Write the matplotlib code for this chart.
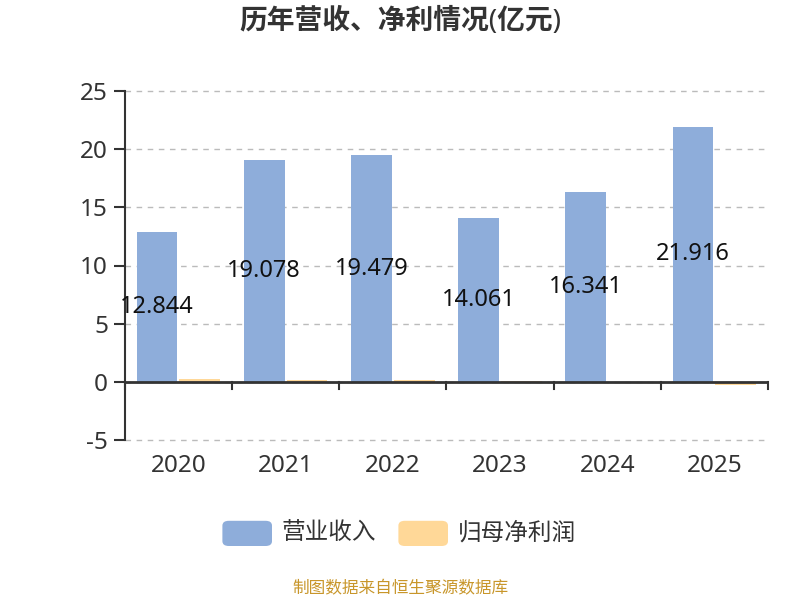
import matplotlib
matplotlib.use('Agg')
import matplotlib.pyplot as plt
import numpy as np
from matplotlib.patches import FancyBboxPatch

plt.rcParams['font.family'] = ['Noto Sans', 'Noto Sans CJK SC', 'DejaVu Sans']

# 数据
years = ['2020', '2021', '2022', '2023', '2024', '2025']
revenue = [12.844, 19.078, 19.479, 14.061, 16.341, 21.916]
net_profit = [0.2, 0.15, 0.15, 0.1, -0.1, -0.25]
yticks = [-5, 0, 5, 10, 15, 20, 25]

blue = '#8EADDA'
orange = '#FFD898'

fig = plt.figure(figsize=(8, 6), dpi=100)
ax = fig.add_axes([0.156, 0.267, 0.804, 0.581])

x = np.arange(len(years))
w = 0.38
ax.bar(x - 0.2, revenue, width=w, color=blue, zorder=3)
ax.bar(x + 0.2, net_profit, width=w, color=orange, zorder=3)

for xi, v in zip(x, revenue):
    ax.text(xi - 0.2, v / 2, f'{v:.3f}', ha='center', va='center',
            fontsize=17, color='#111111', zorder=4)

ax.set_xlim(-0.5, len(years) - 0.5)
ax.set_ylim(-5, 25)
ax.set_yticks(yticks)
ax.set_yticklabels([str(t) for t in yticks], fontsize=17.5, color='#333333')
for t in yticks:
    ax.axhline(t, color='#BBBBBB', linestyle=(0, (4, 4)), linewidth=1,
               zorder=1, clip_on=False)

ax.spines['top'].set_visible(False)
ax.spines['right'].set_visible(False)
ax.spines['bottom'].set_visible(False)
ax.spines['left'].set_color('#333333')
ax.spines['left'].set_linewidth(1.5)
ax.tick_params(axis='y', length=8, width=1.5, color='#333333', pad=4)

# x 轴在 0 处
ax.axhline(0, color='#333333', linewidth=2, zorder=5)
ax.set_xticks([])
for b in np.arange(-0.5, len(years), 1.0):
    ax.plot([b, b], [0, -0.65], color='#333333', linewidth=1.5, zorder=5, clip_on=False)
for xi, y in zip(x, years):
    ax.text(xi, -6.2, y, ha='center', va='top', fontsize=17.5, color='#333333')

fig.text(0.5, 0.963, '历年营收、净利情况(亿元)', ha='center', va='center',
         fontsize=20, fontweight='bold', color='#333333')

# 图例
legend_items = [('营业收入', blue, 0.278), ('归母净利润', orange, 0.498)]
for label, color, lx in legend_items:
    patch = FancyBboxPatch((lx, 0.090), 0.062, 0.042,
                           boxstyle='round,pad=0,rounding_size=0.008',
                           transform=fig.transFigure, facecolor=color,
                           edgecolor='none')
    fig.patches.append(patch)
    fig.text(lx + 0.074, 0.111, label, ha='left', va='center',
             fontsize=17, color='#333333')

fig.text(0.5, 0.018, '制图数据来自恒生聚源数据库', ha='center', va='center',
         fontsize=12, color='#C8962A')

fig.savefig('out.png', dpi=100)
